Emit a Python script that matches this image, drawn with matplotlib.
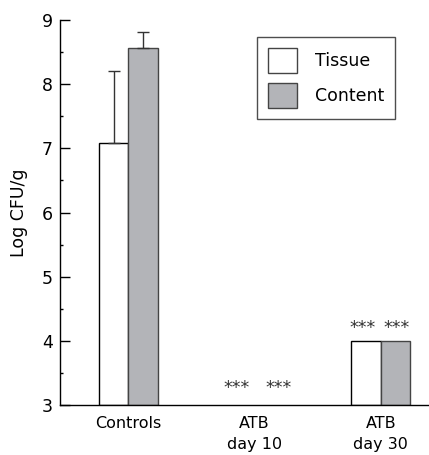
import numpy as np
import matplotlib
matplotlib.use("Agg")
import matplotlib.pyplot as plt
from matplotlib.patches import Patch

plt.rcParams['font.family'] = ['DejaVu Sans']

groups = ["Controls", "ATB\nday 10", "ATB\nday 30"]
tissue = [7.09, 3.0, 4.0]
content = [8.57, 3.0, 4.0]
tissue_err = [1.12, 0, 0]
content_err = [0.25, 0, 0]
# significance marks: (x offset from group centre, y value)
stars_day10 = [(-0.14, 3.27), (0.19, 3.27)]
stars_day30 = [(-0.145, 4.2), (0.125, 4.2)]

gray = "#b3b4b8"
w = 0.232
base = 3

fig = plt.figure(figsize=(4.29, 4.55), dpi=100)
ax = fig.add_axes([60 / 429, 50 / 455, 369 / 429, 385 / 455])

x = np.arange(len(groups))
for i in range(len(groups)):
    # bars sitting on the axis floor are not drawn
    if tissue[i] > base:
        ax.bar(x[i] - w / 2, tissue[i] - base, w, bottom=base, color="white",
               edgecolor="black", linewidth=1.0)
    if content[i] > base:
        ax.bar(x[i] + w / 2, content[i] - base, w, bottom=base, color=gray,
               edgecolor="#444444", linewidth=1.0)
    if tissue_err[i] > 0:
        ax.errorbar(x[i] - w / 2, tissue[i], yerr=[[0], [tissue_err[i]]], fmt="none",
                    ecolor="#333333", elinewidth=1.0, capsize=4, capthick=1.0)
    if content_err[i] > 0:
        ax.errorbar(x[i] + w / 2, content[i], yerr=[[0], [content_err[i]]], fmt="none",
                    ecolor="#333333", elinewidth=1.0, capsize=4, capthick=1.0)

for dx, yv in stars_day10:
    ax.text(x[1] + dx, yv, "***", ha="center", va="center", fontsize=12.5, color="#333333")
for dx, yv in stars_day30:
    ax.text(x[2] + dx, yv, "***", ha="center", va="center", fontsize=12.5, color="#333333")

ax.set_ylim(3, 9)
ax.set_xlim(-0.543, 2.383)
ax.set_yticks(np.arange(3, 10, 1))
ax.set_yticks(np.arange(3.5, 9, 1), minor=True)
ax.tick_params(axis="y", which="major", direction="in", length=7, width=1, labelsize=12.5, pad=5)
ax.tick_params(axis="y", which="minor", direction="in", length=2.5, width=1)
ax.set_xticks(x)
ax.set_xticklabels(groups, fontsize=11.5, linespacing=1.5)
ax.tick_params(axis="x", length=0, pad=8)
ax.set_ylabel("Log CFU/g", fontsize=12.5, labelpad=10)

for s in ["top", "right"]:
    ax.spines[s].set_visible(False)
for s in ["left", "bottom"]:
    ax.spines[s].set_linewidth(1.0)

handles = [Patch(facecolor="white", edgecolor="#444444", label="Tissue"),
           Patch(facecolor=gray, edgecolor="#444444", label="Content")]
leg = ax.legend(handles=handles, loc="upper left", bbox_to_anchor=(256.7 / 429, 1 - 36.7 / 455),
                bbox_transform=fig.transFigure, fontsize=12.5, fancybox=False, frameon=True,
                edgecolor="#222222", handlelength=1.7, handleheight=1.85, handletextpad=1.0,
                borderpad=0.65, labelspacing=0.55, borderaxespad=0)
leg.get_frame().set_linewidth(1.0)

fig.savefig("out.png", dpi=100)
